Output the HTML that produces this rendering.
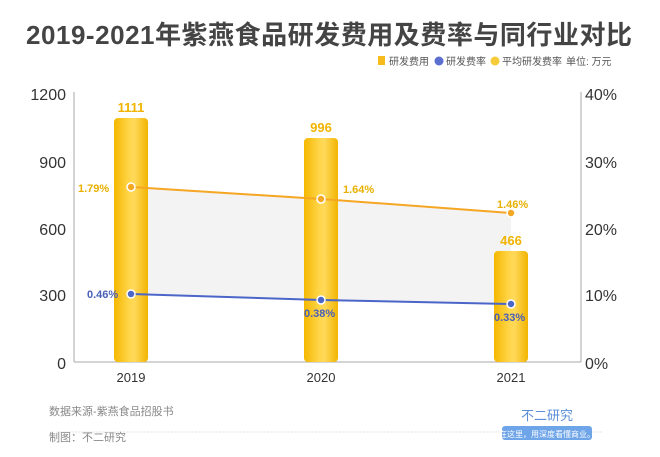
<!DOCTYPE html>
<html><head><meta charset="utf-8"><style>
body{margin:0;width:660px;height:452px;background:#fff;overflow:hidden;font-family:"Liberation Sans","Noto Sans CJK SC",sans-serif;}
</style></head><body>
<svg width="660" height="452" xmlns="http://www.w3.org/2000/svg" font-family="Liberation Sans, Noto Sans CJK SC, sans-serif">
<defs>
<linearGradient id="bg" x1="0" x2="1" y1="0" y2="0">
<stop offset="0" stop-color="#f5b800"/><stop offset="0.45" stop-color="#ffd54a"/><stop offset="0.6" stop-color="#ffd95a"/><stop offset="1" stop-color="#f2b400"/>
</linearGradient>
</defs>
<text x="329" y="44" text-anchor="middle" font-size="26" font-weight="bold" fill="#444" textLength="606">2019-2021年紫燕食品研发费用及费率与同行业对比</text>
<g font-size="10" fill="#555">
<rect x="378" y="56" width="7" height="9" fill="#f5bc1c"/><text x="389" y="65">研发费用</text>
<circle cx="439" cy="61" r="4.5" fill="#5a6fd0"/><text x="446" y="65">研发费率</text>
<circle cx="495" cy="61" r="4.5" fill="#f6cb3a"/><text x="502" y="65">平均研发费率</text>
<text x="566" y="65">单位: 万元</text>
</g>
<polygon points="131,187 321,199 511,213 511,304 321,300 131,294" fill="#f3f3f3"/>
<line x1="74" y1="92" x2="74" y2="362" stroke="#aaa"/>
<line x1="581" y1="92" x2="581" y2="362" stroke="#aaa"/>
<line x1="74" y1="362" x2="581" y2="362" stroke="#aaa"/>
<g font-size="16" fill="#333" text-anchor="end">
<text x="66" y="100">1200</text><text x="66" y="168">900</text><text x="66" y="235">600</text><text x="66" y="301">300</text><text x="66" y="369">0</text>
</g>
<g font-size="16" fill="#333">
<text x="585" y="100">40%</text><text x="585" y="168">30%</text><text x="585" y="235">20%</text><text x="585" y="301">10%</text><text x="585" y="369">0%</text>
</g>
<g font-size="13" fill="#333" text-anchor="middle">
<text x="131" y="382">2019</text><text x="321" y="382">2020</text><text x="511" y="382">2021</text>
</g>
<rect x="114" y="118" width="34" height="244" rx="4" fill="url(#bg)"/>
<rect x="304" y="138" width="34" height="224" rx="4" fill="url(#bg)"/>
<rect x="494" y="251" width="34" height="111" rx="4" fill="url(#bg)"/>
<g font-size="13" font-weight="bold" fill="#f0b400" text-anchor="middle">
<text x="131" y="112">1111</text><text x="321" y="132">996</text><text x="511" y="245">466</text>
</g>
<polyline points="131,187 321,199 511,213" fill="none" stroke="#f5a623" stroke-width="2"/>
<g fill="#f5a623" stroke="#fff" stroke-width="1.5"><circle cx="131" cy="187" r="4"/><circle cx="321" cy="199" r="4"/><circle cx="511" cy="213" r="4"/></g>
<g font-size="11" font-weight="bold" fill="#e8b000">
<text x="78" y="192">1.79%</text><text x="343" y="193">1.64%</text><text x="497" y="208">1.46%</text>
</g>
<polyline points="131,294 321,300 511,304" fill="none" stroke="#4a66c8" stroke-width="2"/>
<g fill="#4a66c8" stroke="#fff" stroke-width="1.5"><circle cx="131" cy="294" r="4"/><circle cx="321" cy="300" r="4"/><circle cx="511" cy="304" r="4"/></g>
<g font-size="11" font-weight="bold" fill="#4a5fb8">
<text x="87" y="298">0.46%</text><text x="304" y="317">0.38%</text><text x="494" y="321">0.33%</text>
</g>
<line x1="57" y1="432" x2="602" y2="432" stroke="#e6e6e6" stroke-dasharray="2,1"/>
<g font-size="11" fill="#888">
<text x="49" y="415">数据来源-紫燕食品招股书</text>
<text x="49" y="441">制图：不二研究</text>
</g>
<text x="547" y="420" font-size="13" fill="#5a8fd8" text-anchor="middle">不二研究</text>
<rect x="502" y="426" width="90" height="14" rx="3" fill="#6ea4e8"/>
<text x="547" y="437" font-size="8" fill="#fff" text-anchor="middle">在这里，用深度看懂商业。</text>
</svg>
</body></html>
